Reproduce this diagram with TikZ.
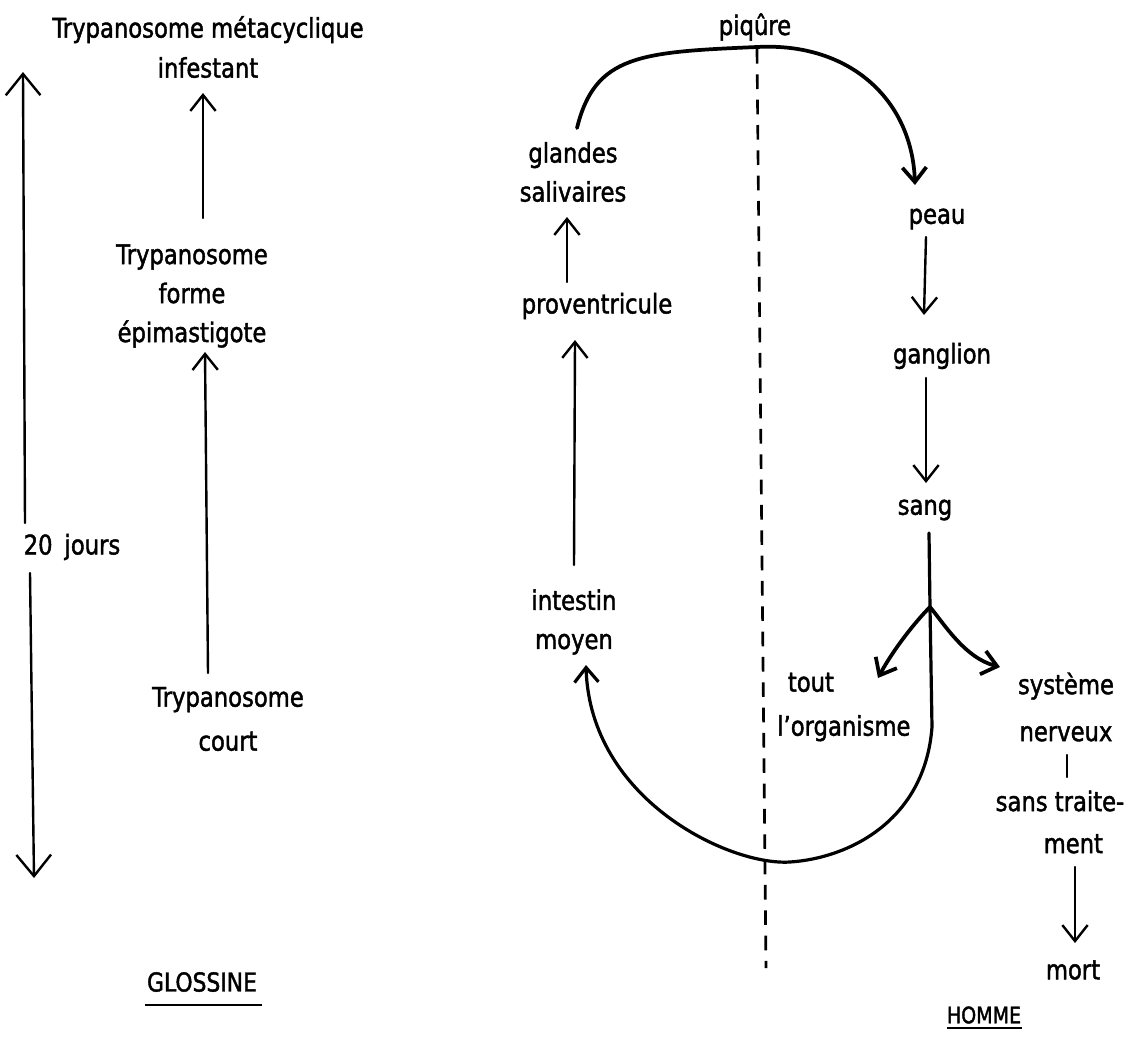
\documentclass[tikz,border=0pt]{standalone}
\usepackage{fontspec}
\setmainfont{DejaVu Sans}[FakeStretch=0.84, FakeBold=1.6]
\usetikzlibrary{arrows.meta}
\begin{document}
\begin{tikzpicture}[x=0.75pt,y=-0.75pt,
  lbl/.style={inner sep=0pt, align=center, font=\fontsize{20.25pt}{#1}\selectfont},
  lbl/.default=30pt,
  ln/.style={line width=1.8pt, line cap=round},
  arr/.style={ln, -{Straight Barb[length=12pt,width=19pt]}},
  bigarr/.style={ln, -{Straight Barb[length=16pt,width=26pt]}},
  curvearr/.style={line width=2.8pt, line cap=round, -{Straight Barb[length=11pt,width=18pt]}},
  dashline/.style={line width=2pt, dash pattern=on 11pt off 8pt}]
\fill[white] (0,0) rectangle (1133,1047);
\useasboundingbox (0,0) rectangle (1133,1047);

% ---------- GLOSSINE side ----------
\node[lbl=30pt] (meta) at (208,47) {Trypanosome métacyclique\\infestant};
\node[lbl=29.25pt] (epi) at (192,296) {Trypanosome\\forme\\épimastigote};
\node[lbl=33pt] (court) at (228,719) {Trypanosome\\court};
\node[lbl] (jours) at (72,547) {20\hspace{9pt}jours};
\node[inner sep=0pt, font=\fontsize{19.5pt}{24pt}\selectfont] (glossine) at (202,982) {GLOSSINE};
\coordinate (ttop) at (23,72);
\coordinate (tbot) at (34,878);

\draw[arr] ([shift={(11,-78)}]epi.center) -- ([shift={(-5,46)}]meta.center);
\draw[arr] ([shift={(-20,-46)}]court.center) -- ([shift={(13,56)}]epi.center);
\draw[bigarr] ([shift={(-47,-24)}]jours.center) -- (ttop);
\draw[bigarr] ([shift={(-42,26)}]jours.center) -- (tbot);
\draw[line width=1.8pt] ([shift={(-57,23)}]glossine.center) -- ([shift={(60,23)}]glossine.center);

% ---------- HOMME side ----------
\node[lbl] (piqure) at (755,27) {piqûre};
\node[lbl=29.25pt] (glandes) at (573,172) {glandes\\salivaires};
\node[lbl] (prov) at (597,306) {proventricule};
\node[lbl=29.25pt] (intestin) at (574,622) {intestin\\moyen};
\node[lbl] (peau) at (937,219) {peau};
\node[lbl] (ganglion) at (942,356) {ganglion};
\node[lbl] (sang) at (925,510) {sang};
\node[lbl=33pt, align=left, anchor=west] (tout) at (777,707) {\hspace{8pt}tout\\l'organisme};
\node[lbl=35.25pt] (syst) at (1066,707) {système\\nerveux};
\node[lbl=31.5pt] (sans) at (1060,822) {sans traite-\\\hspace{20pt}ment};
\node[lbl] (mort) at (1073,970) {mort};
\node[inner sep=0pt, font=\fontsize{17pt}{20pt}\selectfont] (homme) at (984,1015) {HOMME};
\coordinate (dashend) at (766,968);
\coordinate (fork) at (930,607);

\draw[dashline] ([shift={(2,22)}]piqure.center) -- (dashend);

\draw[curvearr] ([shift={(4,-44)}]glandes.center)
  .. controls (595,55) and (640,52) .. ([shift={(2,20)}]piqure.center)
  .. controls (850,42) and (912,100) .. ([shift={(-22,-34)}]peau.center);

\draw[arr] ([shift={(-30,-24)}]prov.center) -- ([shift={(-6,45)}]glandes.center);
\draw[arr] ([shift={(0,-57)}]intestin.center) -- ([shift={(-22,34)}]prov.center);
\draw[arr] ([shift={(-11,18)}]peau.center) -- ([shift={(-18,-41)}]ganglion.center);
\draw[arr] ([shift={(-16,22)}]ganglion.center) -- ([shift={(1,-27)}]sang.center);

\draw[curvearr, line width=2.4pt] ([shift={(4,23)}]sang.center) -- (fork) -- (932,727)
  .. controls (925,820) and (850,858) .. (790,862)
  .. controls (730,866) and (590,800) .. ([shift={(12,43)}]intestin.center);

\draw[curvearr] (fork) .. controls (915,622) and (893,650) .. ([shift={(101,-29)}]tout.west);
\draw[curvearr] (fork) .. controls (945,625) and (965,658) .. ([shift={(-66,-40)}]syst.center);

\draw[ln] ([shift={(1,48)}]syst.center) -- ([shift={(7,-45)}]sans.center);
\draw[arr] ([shift={(15,45)}]sans.center) -- ([shift={(2,-27)}]mort.center);
\draw[line width=1.5pt] ([shift={(-37,13)}]homme.center) -- ([shift={(38,13)}]homme.center);
\end{tikzpicture}
\end{document}
